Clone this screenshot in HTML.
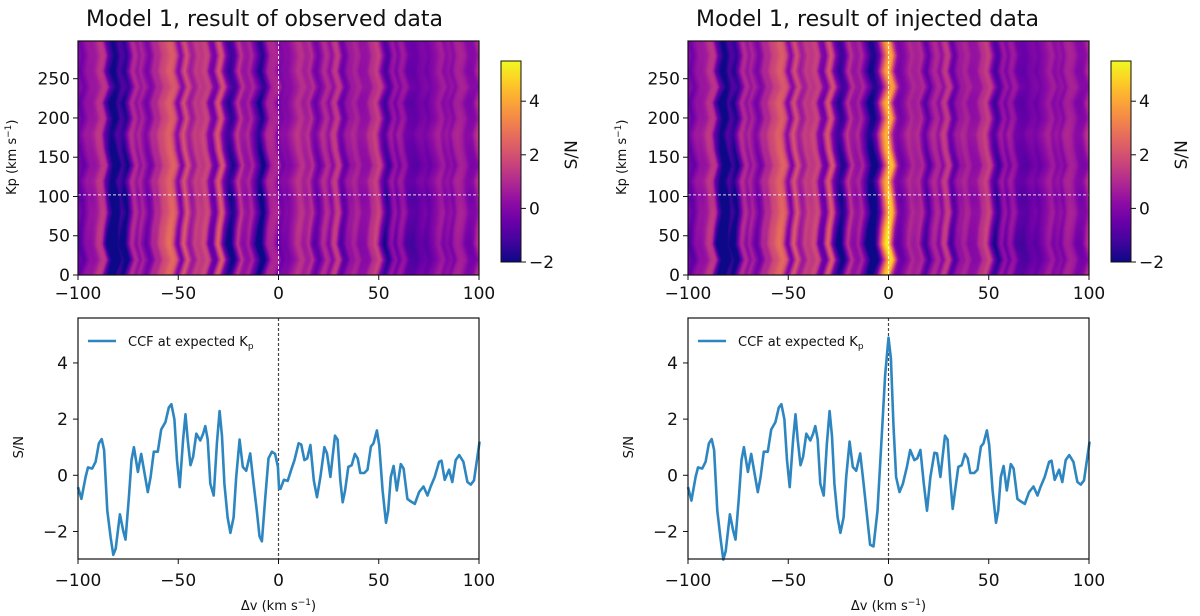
<!DOCTYPE html>
<html><head><meta charset="utf-8"><style>
body{margin:0;background:#fff;width:1200px;height:616px;overflow:hidden;font-family:"Liberation Sans","DejaVu Sans",sans-serif}
#wrap{position:relative;width:1200px;height:616px}
canvas{position:absolute}
svg{position:absolute;left:0;top:0}
text{font-family:"DejaVu Sans","Liberation Sans",sans-serif;fill:#111}
</style></head><body>
<div id="wrap">
<canvas id="hmL" width="401" height="234" style="left:78px;top:41px"></canvas>
<canvas id="hmR" width="401" height="234" style="left:688px;top:41px"></canvas>
<svg id="svg" width="1200" height="616"></svg>
</div>
<script>
// Data
const dvL=[-100,-98.3,-96.2,-95,-92.9,-91.2,-89.6,-88.2,-87,-85.4,-83.7,-82.4,-81.2,-79.1,-77.4,-76.3,-74.6,-73.3,-72.1,-70.1,-68.5,-66.8,-65.2,-63.8,-62.2,-60.2,-58.5,-56.4,-54.7,-53.4,-51.9,-50.6,-49.3,-47.6,-46.4,-45.3,-43.9,-42.6,-41,-39,-37.6,-36.5,-35.3,-34,-32.3,-30.7,-29.4,-28.2,-27,-25.4,-24,-22.4,-21.1,-19.4,-17.8,-16.1,-14.1,-12.4,-10.8,-9.5,-8.3,-6.6,-5,-3.3,-1.7,-0.3,0.3,1,2.7,4.6,6.3,8,10,11.3,12.9,14.3,15.9,17.6,19.2,20.9,22.9,24.2,25.9,27,28.2,29.5,30.8,32,33.2,34.8,36.5,38.1,39.5,40.8,42.8,44.4,46.1,47.4,49.1,50.2,51.9,53.6,54.7,56,57.4,59,61,62.4,64.3,66,68,70.1,72.3,74.3,75.9,77.9,80.1,81.3,82.9,85.1,86.7,88.4,90.1,92.2,94.2,95.9,97.5,99.2,100.5];
const snL=[-0.42,-0.84,-0.06,0.28,0.24,0.48,1.14,1.29,0.9,-1.26,-2.23,-2.83,-2.61,-1.39,-1.99,-2.29,-0.78,0.54,1.0,0.12,0.76,0.06,-0.6,-0.06,0.84,0.84,1.63,1.89,2.41,2.53,1.99,0.54,-0.42,1.27,2.17,1.27,0.36,0.66,1.48,1.24,1.48,1.75,1.27,-0.3,-0.72,1.14,2.29,1.39,-0.3,-1.5,-2.05,-1.5,-0.06,1.27,0.3,0.16,0.78,-0.3,-1.26,-2.17,-2.35,-0.78,0.6,0.84,0.76,0.3,-0.48,-0.48,-0.16,-0.2,0.18,0.54,1.14,1.1,0.54,0.6,1.08,-0.18,-0.78,-0.06,1.0,0.78,-0.06,0.66,1.41,1.27,-0.18,-0.96,-0.54,0.3,0.36,0.76,0.6,0.08,0.08,0.2,1.02,1.14,1.6,1.08,-0.54,-1.69,-1.26,-0.06,0.33,-0.54,0.4,0.24,-0.84,-0.93,-1.02,-0.6,-0.4,-0.72,-0.4,-0.06,0.48,0.52,-0.16,0.2,-0.24,0.54,0.72,0.48,-0.24,-0.33,-0.18,0.66,1.2];
const dvR=[-100,-98.3,-96.2,-95,-92.9,-91.2,-89.6,-88.2,-87,-85.4,-83.7,-82.4,-81.2,-79.1,-77.4,-76.3,-74.6,-73.3,-72.1,-70.1,-68.5,-66.8,-65.2,-63.8,-62.2,-60.2,-58.5,-56.4,-54.7,-53.4,-51.9,-50.6,-49.3,-47.6,-46.4,-45.3,-43.9,-42.6,-41,-39,-37.6,-36.5,-35.3,-34,-32.3,-30.7,-29.4,-28.2,-27,-25.4,-24,-22.4,-21.1,-19.4,-17.8,-16.1,-14.1,-12.4,-9.2,-7.5,-5.5,-3.3,-1.7,0,1.2,2.5,3.8,5.5,7.2,9.2,10.8,12.9,14.3,15.9,17.6,19.2,20.9,22.9,24.2,25.9,27,28.2,29.5,30.8,32,33.2,34.8,36.5,38.1,39.5,40.8,42.8,44.4,46.1,47.4,49.1,50.2,51.9,53.6,54.7,56,57.4,59,61,62.4,64.3,66,68,70.1,72.3,74.3,75.9,77.9,80.1,81.3,82.9,85.1,86.7,88.4,90.1,92.2,94.2,95.9,97.5,99.2,100.5];
const snR=[-0.42,-0.9,-0.06,0.28,0.24,0.48,1.14,1.29,0.9,-1.26,-2.3,-3.0,-2.7,-1.39,-1.99,-2.29,-0.78,0.54,1.0,0.12,0.76,0.06,-0.6,-0.06,0.84,0.84,1.63,1.89,2.41,2.53,1.99,0.54,-0.42,1.27,2.17,1.27,0.36,0.66,1.48,1.24,1.48,1.75,1.27,-0.3,-0.72,1.14,2.29,1.39,-0.3,-1.5,-2.05,-1.5,-0.06,1.2,0.3,0.16,0.78,-0.3,-2.47,-2.53,-1.26,1.5,3.55,4.9,4.16,1.75,-0.06,-0.6,-0.3,0.3,0.9,0.54,0.6,0.9,-0.3,-1.26,-0.06,0.8,0.78,-0.06,0.66,1.41,1.27,-0.18,-1.2,-0.54,0.3,0.36,0.76,0.6,0.08,0.08,0.2,1.02,1.14,1.6,1.08,-0.54,-1.69,-1.26,-0.06,0.33,-0.54,0.4,0.24,-0.84,-0.93,-1.02,-0.6,-0.4,-0.72,-0.4,-0.06,0.48,0.52,-0.16,0.2,-0.24,0.54,0.72,0.48,-0.24,-0.33,-0.18,0.66,1.2];
const kpRows=[0,20,40,60,80,100,120,140,160,180,200,220,240,260,280,300];
const kpShift=[1.5,-1.0,1.2,0.5,-0.8,0,1.0,-1.2,0.6,1.5,-0.5,1.2,-1.5,0.8,-0.6,1.0];
const kpGain=[0.95,1.05,1.15,1.05,0.95,1.0,0.85,0.95,0.9,0.8,0.85,0.9,0.75,0.85,0.8,0.8];
const kpOffset=[0.2,0.0,-0.1,0.1,0.2,0.0,0.3,0.1,0.2,0.4,0.2,0.1,0.3,0.2,0.3,0.3];
const xTicks=[-100,-50,0,50,100];
const kpTicks=[0,50,100,150,200,250];
const cbTicks=[-2,0,2,4];
const snTicks=[-2,0,2,4];
const plasma=["#0d0887","#41049d","#6a00a8","#8f0da4","#b12a90","#cc4778","#e16462","#f2844b","#fca636","#fcce25","#f0f921"];

const VMIN=-2.0,VMAX=5.5,KPMAX=298;
function interp(xs,ys,x){if(x<=xs[0])return ys[0];for(let i=1;i<xs.length;i++){if(x<=xs[i]){const t=(x-xs[i-1])/(xs[i]-xs[i-1]);return ys[i-1]+t*(ys[i]-ys[i-1]);}}return ys[ys.length-1];}
function hex(h){return [parseInt(h.substr(1,2),16),parseInt(h.substr(3,2),16),parseInt(h.substr(5,2),16)];}
const pal=plasma.map(hex);
function cmap(v){let t=(v-VMIN)/(VMAX-VMIN);t=Math.max(0,Math.min(1,t))*(pal.length-1);const i=Math.min(Math.floor(t),pal.length-2),f=t-i;return [0,1,2].map(k=>Math.round(pal[i][k]+f*(pal[i+1][k]-pal[i][k])));}
function drawHeat(id,dv,sn){
  const c=document.getElementById(id),ctx=c.getContext('2d'),W=c.width,H=c.height;
  const img=ctx.createImageData(W,H);
  for(let py=0;py<H;py++){
    const kp=(H-py)/H*KPMAX;
    const sh=interp(kpRows,kpShift,kp),g=interp(kpRows,kpGain,kp),of=interp(kpRows,kpOffset,kp);
    for(let px=0;px<W;px++){
      const v=px/W*200-100;
      const val=interp(dv,sn,v+sh)*g+of;
      const col=cmap(val),o=(py*W+px)*4;
      img.data[o]=col[0];img.data[o+1]=col[1];img.data[o+2]=col[2];img.data[o+3]=255;
    }
  }
  ctx.putImageData(img,0,0);
}
drawHeat('hmL',dvL,snL);
drawHeat('hmR',dvR,snR);

const NS="http://www.w3.org/2000/svg",svg=document.getElementById('svg');
function el(tag,attrs,txt){const e=document.createElementNS(NS,tag);for(const k in attrs)e.setAttribute(k,attrs[k]);if(txt!==undefined)e.textContent=txt;svg.appendChild(e);return e;}
const defs=el('defs',{});
const grad=document.createElementNS(NS,'linearGradient');grad.setAttribute('id','cbg');grad.setAttribute('x1','0');grad.setAttribute('y1','1');grad.setAttribute('x2','0');grad.setAttribute('y2','0');
plasma.forEach((c,i)=>{const s=document.createElementNS(NS,'stop');s.setAttribute('offset',i/(plasma.length-1));s.setAttribute('stop-color',c);grad.appendChild(s);});
defs.appendChild(grad);

function panel(ox,title,dv,sn,side){
  const X0=ox,X1=ox+401;
  const px=v=>X0+(v+100)/200*401;
  const HT=41,HB=275;
  const py=k=>HB-k/KPMAX*(HB-HT);
  let t=el('text',{x:ox+8,y:26,'font-size':22,'font-family':'Liberation Sans'},title);
  
  let l=el('line',{x1:px(0),x2:px(0),y1:HT,y2:HB,stroke:'#fff','stroke-width':1,'stroke-dasharray':'3,2',opacity:0.85});
  
  l=el('line',{x1:X0,x2:X1,y1:py(102),y2:py(102),stroke:'#fff','stroke-width':1,'stroke-dasharray':'3,2',opacity:0.85});
  
  let r=el('rect',{x:X0,y:HT,width:401,height:HB-HT,fill:'none',stroke:'#111','stroke-width':1.2});
  
  xTicks.forEach(v=>{
    el('line',{x1:px(v),x2:px(v),y1:HB,y2:HB+5,stroke:'#111','stroke-width':1});
    const tt=el('text',{x:px(v),y:HB+24,'font-size':17,'text-anchor':'middle'},v<0?'\u2212'+(-v):String(v));
    
  });
  kpTicks.forEach(k=>{
    el('line',{x1:X0-5,x2:X0,y1:py(k),y2:py(k),stroke:'#111','stroke-width':1});
    const tt=el('text',{x:X0-8,y:py(k)+6,'font-size':17,'text-anchor':'end'},String(k));
    
  });
  t=el('text',{transform:`translate(${ox-62},${py(150)}) rotate(-90)`,'font-size':13,'text-anchor':'middle'});
  t.innerHTML='Kp (km s<tspan dy="-5" font-size="9">\u22121</tspan><tspan dy="5">)</tspan>';
  
  const CX=ox+423,CT=61,CB=262;
  const cy=v=>CB-(v-VMIN)/(VMAX-VMIN)*(CB-CT);
  r=el('rect',{x:CX,y:CT,width:20,height:CB-CT,fill:'url(#cbg)',stroke:'#111','stroke-width':1});
  
  cbTicks.forEach(v=>{
    el('line',{x1:CX+20,x2:CX+25,y1:cy(v),y2:cy(v),stroke:'#111','stroke-width':1});
    const tt=el('text',{x:CX+28,y:cy(v)+6,'font-size':17},v<0?'\u2212'+(-v):String(v));
    
  });
  t=el('text',{transform:`translate(${CX+76},${cy(2)}) rotate(-90)`,'font-size':17,'text-anchor':'middle'},'S/N');
  
  const BT=318,BB=559,SMIN=-2.98,SMAX=5.6;
  const sy=v=>BB-(v-SMIN)/(SMAX-SMIN)*(BB-BT);
  l=el('line',{x1:px(0),x2:px(0),y1:BT,y2:BB,stroke:'#444','stroke-width':1.2,'stroke-dasharray':'3,2'});
  
  const d=dv.map((v,i)=>(i?'L':'M')+px(Math.max(-100,Math.min(100.3,v))).toFixed(1)+','+sy(sn[i]).toFixed(1)).join('');
  const path=el('path',{d:d,fill:'none',stroke:'#2e86c1','stroke-width':2.6,'stroke-linejoin':'round'});
  
  r=el('rect',{x:X0,y:BT,width:401,height:BB-BT,fill:'none',stroke:'#111','stroke-width':1.2});
  
  xTicks.forEach(v=>{
    el('line',{x1:px(v),x2:px(v),y1:BB,y2:BB+5,stroke:'#111','stroke-width':1});
    const tt=el('text',{x:px(v),y:BB+27,'font-size':17,'text-anchor':'middle'},v<0?'\u2212'+(-v):String(v));
    
  });
  snTicks.forEach(v=>{
    el('line',{x1:X0-5,x2:X0,y1:sy(v),y2:sy(v),stroke:'#111','stroke-width':1});
    const tt=el('text',{x:X0-10,y:sy(v)+6,'font-size':17,'text-anchor':'end'},v<0?'\u2212'+(-v):String(v));
    
  });
  t=el('text',{transform:`translate(${ox-55},${sy(1)}) rotate(-90)`,'font-size':13,'text-anchor':'middle'},'S/N');
  
  t=el('text',{x:px(0),y:610,'font-size':13,'text-anchor':'middle'});
  t.innerHTML='\u0394v (km s<tspan dy="-5" font-size="9">\u22121</tspan><tspan dy="5">)</tspan>';
  
  l=el('line',{x1:X0+10,x2:X0+38,y1:341,y2:341,stroke:'#2e86c1','stroke-width':2.6});
  
  t=el('text',{x:X0+50,y:346,'font-size':13});
  t.innerHTML='CCF at expected K<tspan dy="3" font-size="9">p</tspan>';
  
}
panel(78,'Model 1, result of observed data',dvL,snL,'left');
panel(688,'Model 1, result of injected data',dvR,snR,'right');
</script>
</body></html>
